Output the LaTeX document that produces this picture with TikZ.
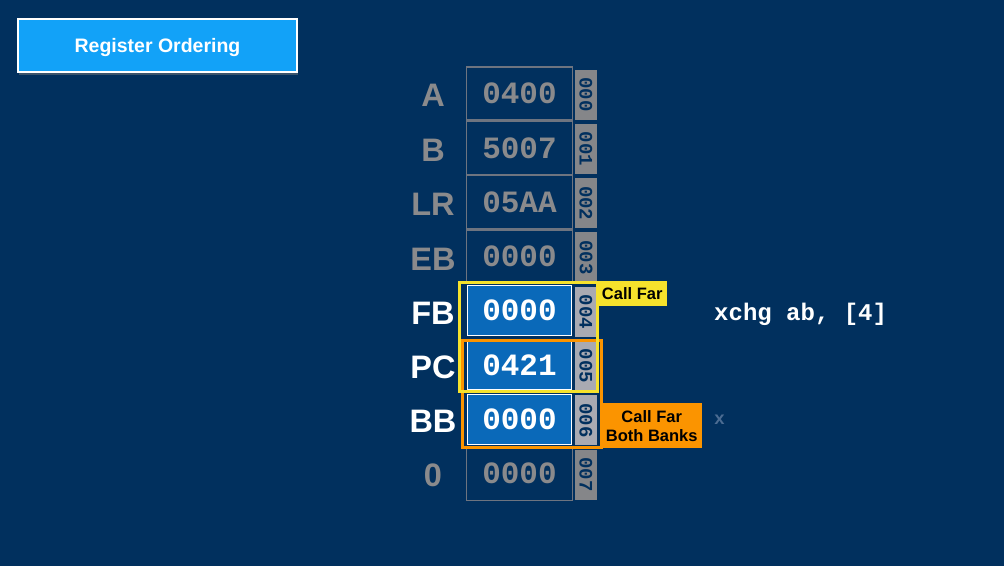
\documentclass[tikz,border=0pt]{standalone}
\usepackage{fontspec}
\setmainfont{Liberation Sans}
\newfontfamily\monof{Liberation Mono}
\usetikzlibrary{shadows}
\definecolor{bg}{HTML}{01305E}
\definecolor{titleblue}{HTML}{12A2F8}
\definecolor{actblue}{HTML}{0A69B9}
\definecolor{fadeline}{HTML}{6E7480}
\definecolor{fadetext}{HTML}{8A8A8C}
\definecolor{taggray}{HTML}{858689}
\definecolor{taglight}{HTML}{A9AAB2}
\definecolor{callyellow}{HTML}{F6E22C}
\definecolor{callorange}{HTML}{FB9400}
\definecolor{ghost}{HTML}{4C6C92}
\begin{document}
\begin{tikzpicture}[x=1pt,y=-1pt,
  regbox/.style={draw=fadeline, line width=1.2pt, fill=bg, minimum width=106, minimum height=53,
    inner sep=0pt, font=\monof\bfseries\fontsize{31}{31}\selectfont, text=fadetext},
  actbox/.style={regbox, fill=actblue, draw=white, text=white, minimum width=104, minimum height=50},
  tagbox/.style={fill=taggray, minimum width=50, minimum height=22, inner sep=0pt,
    font=\monof\bfseries\fontsize{19}{19}\selectfont, text=bg},
  acttag/.style={tagbox, fill=taglight},
  reglbl/.style={anchor=center, inner sep=0pt, text depth=0pt, font=\bfseries\fontsize{32.5}{32.5}\selectfont, text=fadetext},
  actlbl/.style={reglbl, text=white},
  callbox/.style={anchor=north west, inner sep=0pt, font=\bfseries\fontsize{16.5}{19}\selectfont,
    text=black, align=center}]
\fill[bg] (0,0) rectangle (1004,566);
\useasboundingbox (0,0) rectangle (1004,566);
% title
\node[fill=titleblue, draw=white, line width=2.5pt, minimum width=279, minimum height=53,
  text depth=0pt, font=\bfseries\fontsize{19.5}{19.5}\selectfont, text=white,
  drop shadow={opacity=0.45, shadow xshift=1pt, shadow yshift=-3pt}] (title) at (157.5,45.5) {Register Ordering};
% rows
\foreach \i/\n/\v/\t/\bs/\ts in {0/A/0400/000/regbox/tagbox,
  1/B/5007/001/regbox/tagbox,
  2/LR/05AA/002/regbox/tagbox,
  3/EB/0000/003/regbox/tagbox,
  4/FB/0000/004/actbox/acttag,
  5/PC/0421/005/actbox/acttag,
  6/BB/0000/006/actbox/acttag,
  7/Z/0000/007/regbox/tagbox}{
  \pgfmathsetmacro{\yy}{93.5+54.3*\i}
  \node[\bs] (box\n) at (519.5,\yy) {\v};
  \node[\ts, rotate=-90] (tag\n) at (586,\yy+1) {\t};
}
\node[reglbl] (lA) at (433,95.5) {A};
\node[reglbl] (lB) at (433,150) {B};
\node[reglbl] (lLR) at (433,204.5) {LR};
\node[reglbl] (lEB) at (433,259) {EB};
\node[actlbl] (lFB) at (433,313) {FB};
\node[actlbl] (lPC) at (433,367) {PC};
\node[actlbl] (lBB) at (433,421) {BB};
\node[reglbl] (lZ) at (433,475) {0};
% groups
\draw[callorange, line width=2.5pt] (462.5,340.5) rectangle (601.5,447.5);
\draw[callyellow, line width=2.5pt] (459.5,282.5) rectangle (597.5,391.5);
\node[callbox, fill=callyellow, minimum width=69, minimum height=25] (callfar) at (597.5,281) {Call Far};
\node[callbox, fill=callorange, minimum width=101, minimum height=45] (callboth) at (601,403) {Call Far\\Both Banks};
% code
\node[anchor=west, inner sep=0pt, text=white, font=\monof\bfseries\fontsize{24}{24}\selectfont] (code) at (714,314) {xchg ab, [4]};
\node[anchor=west, inner sep=0pt, text=ghost, font=\monof\bfseries\fontsize{18}{18}\selectfont] (ghostx) at (714,420) {x};
\end{tikzpicture}
\end{document}
